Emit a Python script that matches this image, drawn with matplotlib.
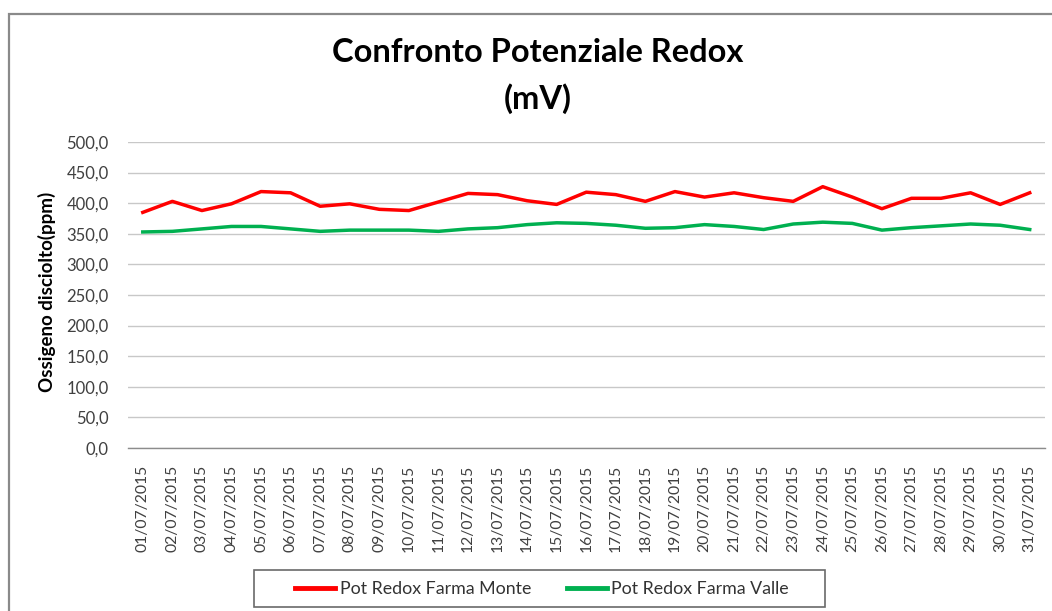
import matplotlib
matplotlib.use("Agg")
import matplotlib.pyplot as plt
from matplotlib.patches import Rectangle
from matplotlib.lines import Line2D

plt.rcParams['font.family'] = ['Lato', 'DejaVu Sans']

dates = [f"{d:02d}/07/2015" for d in range(1, 32)]
monte = [385, 403, 388, 399, 419, 417, 395, 399, 390, 388, 402, 416, 414, 404, 398,
         418, 414, 403, 419, 410, 417, 409, 403, 427, 410, 391, 408, 408, 417, 398, 417]
valle = [353, 354, 358, 362, 362, 358, 354, 356, 356, 356, 354, 358, 360, 365, 368,
         367, 364, 359, 360, 365, 362, 357, 366, 369, 367, 356, 360, 363, 366, 364, 357]
yticks = [0, 50, 100, 150, 200, 250, 300, 350, 400, 450, 500]
ytick_labels = [f"{v},0" for v in yticks]

W, H = 1052, 611
fig = plt.figure(figsize=(W / 100, H / 100), dpi=100)
fig.patch.set_facecolor('white')

def fx(px):
    return px / W

def fy(py):
    return 1 - py / H

# outer chart frame
fig.patches.append(Rectangle((fx(9.5), fy(700)), fx(1100), fy(14) - fy(700),
                             transform=fig.transFigure, fill=False,
                             edgecolor='#8a8a8a', linewidth=1.6))

ax = fig.add_axes([fx(128), fy(448), fx(1044.5) - fx(128), fy(142) - fy(448)])
x = list(range(len(dates)))
ax.plot(x, monte, color='#ff0000', linewidth=2.5, solid_joinstyle='round')
ax.plot(x, valle, color='#00b050', linewidth=2.5, solid_joinstyle='round')

ax.set_xlim(-0.5, len(dates) - 0.5)
ax.set_ylim(0, 500)
ax.set_yticks(yticks)
ax.set_yticklabels(ytick_labels, fontsize=12, color='#404040')
ax.set_xticks(x)
ax.set_xticklabels(dates, rotation=90, fontsize=11.3, color='#404040')
ax.tick_params(axis='both', length=0)
ax.tick_params(axis='y', pad=14)
ax.tick_params(axis='x', pad=12)
ax.grid(axis='y', color='#c8c8c8', linewidth=1)
ax.set_axisbelow(True)
for side in ['top', 'right', 'left']:
    ax.spines[side].set_visible(False)
ax.spines['bottom'].set_color('#8c8c8c')
ax.spines['bottom'].set_linewidth(1)

fig.text(fx(47), fy(292), "Ossigeno disciolto(ppm)", rotation=90, ha='center',
         va='center', fontsize=13.5, fontweight='bold', color='black')

fig.text(fx(538), fy(52), "Confronto Potenziale Redox", ha='center', va='center',
         fontsize=23.5, fontweight='bold', color='black')
fig.text(fx(538), fy(99), "(mV)", ha='center', va='center',
         fontsize=23.5, fontweight='bold', color='black')

# legend with a wide framed box
fig.patches.append(Rectangle((fx(254), fy(607)), fx(825) - fx(254), fy(570) - fy(607),
                             transform=fig.transFigure, fill=False,
                             edgecolor='#6a6a6a', linewidth=1.2))
handles = [Line2D([], [], color='#ff0000', linewidth=3.5),
           Line2D([], [], color='#00b050', linewidth=3.5)]
leg = fig.legend(handles, ["Pot Redox Farma Monte", "Pot Redox Farma Valle"],
                 loc='center', bbox_to_anchor=(fx(542), fy(589)), ncol=2,
                 frameon=False, fontsize=12.8, handlelength=2.25,
                 handletextpad=0.25, columnspacing=2.0, borderpad=0.3)
for t in leg.get_texts():
    t.set_color('#333333')

fig.savefig("out.png", dpi=100, facecolor='white')
